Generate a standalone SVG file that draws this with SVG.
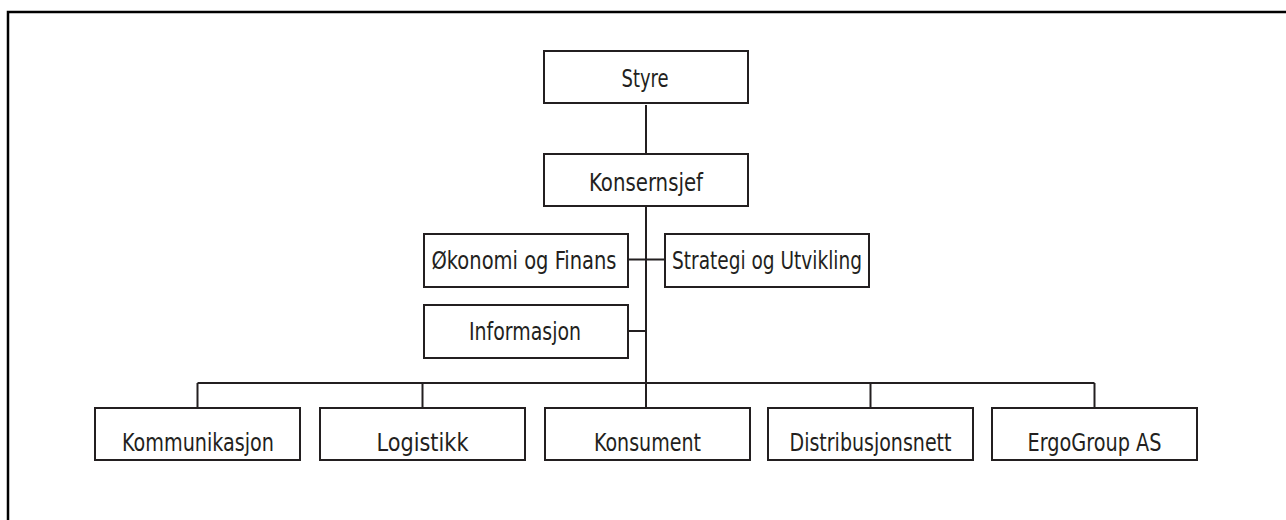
<svg xmlns="http://www.w3.org/2000/svg" width="1286" height="520" viewBox="0 0 1286 520">
<style>
.box{fill:#fff;stroke:#231f20;stroke-width:2}
.ln{stroke:#231f20;stroke-width:2;fill:none}
.t{font-family:"Liberation Sans Narrow","DejaVu Sans Condensed","Liberation Sans",sans-serif;font-size:25px;fill:#231f20;text-anchor:middle}
</style>
<rect x="0" y="0" width="1286" height="520" fill="#fff"/>
<path d="M8,521 V12 H1287" fill="none" stroke="#000" stroke-width="2.5"/>
<g id="connectors">
<line class="ln" x1="646" y1="105" x2="646" y2="154"/>
<line class="ln" x1="646" y1="207" x2="646" y2="408"/>
<line class="ln" x1="628" y1="259.5" x2="665" y2="259.5"/>
<line class="ln" x1="628" y1="331" x2="646" y2="331"/>
<line class="ln" x1="197.5" y1="383" x2="1094.5" y2="383"/>
<line class="ln" x1="197.5" y1="383" x2="197.5" y2="408"/>
<line class="ln" x1="422.5" y1="383" x2="422.5" y2="408"/>
<line class="ln" x1="870.5" y1="383" x2="870.5" y2="408"/>
<line class="ln" x1="1094.5" y1="383" x2="1094.5" y2="408"/>
</g>
<g id="styre"><rect class="box" x="544" y="51" width="204" height="52"/><text class="t" x="645" y="86.5" textLength="47" lengthAdjust="spacingAndGlyphs">Styre</text></g>
<g id="konsernsjef"><rect class="box" x="544" y="154" width="204" height="52"/><text class="t" x="646" y="190.5" textLength="114" lengthAdjust="spacingAndGlyphs">Konsernsjef</text></g>
<g id="okonomi"><rect class="box" x="424" y="234" width="204" height="53"/><text class="t" x="524" y="269" textLength="185" lengthAdjust="spacingAndGlyphs">Økonomi og Finans</text></g>
<g id="strategi"><rect class="box" x="665" y="234" width="204" height="53"/><text class="t" x="767" y="269" textLength="190" lengthAdjust="spacingAndGlyphs">Strategi og Utvikling</text></g>
<g id="informasjon"><rect class="box" x="424" y="305" width="204" height="53"/><text class="t" x="525" y="339.5" textLength="112" lengthAdjust="spacingAndGlyphs">Informasjon</text></g>
<g id="kommunikasjon"><rect class="box" x="95" y="408" width="205" height="52"/><text class="t" x="198" y="451" textLength="152" lengthAdjust="spacingAndGlyphs">Kommunikasjon</text></g>
<g id="logistikk"><rect class="box" x="320" y="408" width="205" height="52"/><text class="t" x="422.5" y="451" textLength="92" lengthAdjust="spacingAndGlyphs">Logistikk</text></g>
<g id="konsument"><rect class="box" x="545" y="408" width="205" height="52"/><text class="t" x="647.5" y="451" textLength="107" lengthAdjust="spacingAndGlyphs">Konsument</text></g>
<g id="distribusjonsnett"><rect class="box" x="768" y="408" width="205" height="52"/><text class="t" x="870.5" y="451" textLength="162" lengthAdjust="spacingAndGlyphs">Distribusjonsnett</text></g>
<g id="ergogroup"><rect class="box" x="992" y="408" width="205" height="52"/><text class="t" x="1094.5" y="451" textLength="134" lengthAdjust="spacingAndGlyphs">ErgoGroup AS</text></g>
</svg>
